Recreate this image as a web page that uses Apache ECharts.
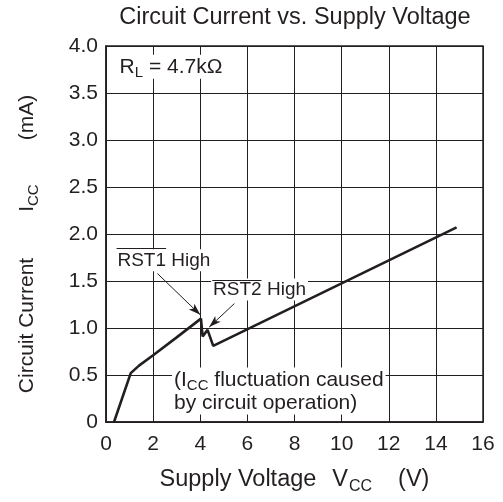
<!DOCTYPE html>
<html>
<head>
<meta charset="utf-8">
<script src="https://cdn.jsdelivr.net/npm/echarts@6/dist/echarts.min.js"></script>
<style>
  html, body { margin: 0; padding: 0; background: #fff; }
  #chart { width: 503px; height: 502px; }
</style>
</head>
<body>
<div id="chart"></div>
<script>
// curve (V, mA)
var voltage = [0.34, 1.05, 1.4, 2.0, 3.0, 4.03, 4.1, 4.31, 4.55, 14.88];
var current = [0, 0.52, 0.6, 0.71, 0.9, 1.1, 0.91, 0.98, 0.81, 2.07];

var xTickLabels = ['0', '2', '4', '6', '8', '10', '12', '14', '16'];
var yTickLabels = ['0', '0.5', '1.0', '1.5', '2.0', '2.5', '3.0', '3.5', '4.0'];

// arrows: [from, to]
var arrows = [
  [[2.18, 1.58], [4.0, 1.14]],
  [[5.45, 1.26], [4.38, 1.01]]
];
// overlines above RST1 / RST2
var overlines = [
  [[0.45, 1.85], [2.55, 1.85]],
  [[4.51, 1.51], [6.6, 1.51]]
];
// text notes, anchored at left-middle
var notes = [
  { coord: [0.47, 3.78], text: '{n|R}{s|L}{n| = 4.7kΩ}' },
  { coord: [0.38, 1.72], text: '{m|RST1 High}' },
  { coord: [4.44, 1.41], text: '{m|RST2 High}' },
  { coord: [2.78, 0.33], text: '{n|(I}{s|CC}{n| fluctuation caused}\n{n|by circuit operation)}' }
];

var ink = '#231f20';
var fam = '"Liberation Sans", Arial, Helvetica, sans-serif';
var rich = {
  n: { fontSize: 21, fontFamily: fam, color: ink, lineHeight: 23, verticalAlign: 'middle' },
  m: { fontSize: 19, fontFamily: fam, color: ink, lineHeight: 21, verticalAlign: 'middle' },
  s: { fontSize: 15, fontFamily: fam, color: ink, lineHeight: 16, padding: [12, 0, 0, 0], verticalAlign: 'middle' },
  ga: { fontSize: 21, fontFamily: fam, width: 46 },
  gb: { fontSize: 21, fontFamily: fam, width: 44 },
  e: { fontSize: 21, fontFamily: fam, width: 20 }
};
var xRich = {
  n: { fontSize: 23.5, fontFamily: fam, color: ink, lineHeight: 25, verticalAlign: 'middle' },
  s: { fontSize: 16, fontFamily: fam, color: ink, lineHeight: 17, padding: [15, 0, 0, 1], verticalAlign: 'middle' },
  g1: { fontSize: 23.5, fontFamily: fam, width: 16 },
  g2: { fontSize: 23.5, fontFamily: fam, width: 26 }
};

var chart = echarts.init(document.getElementById('chart'));

chart.setOption({
  animation: false,
  backgroundColor: '#fff',
  title: {
    text: 'Circuit Current vs. Supply Voltage',
    left: 295,
    top: 6,
    textAlign: 'center',
    padding: 0,
    textStyle: { fontSize: 23.5, fontWeight: 'normal', fontFamily: fam, color: ink }
  },
  grid: {
    left: 106, top: 46, width: 377, height: 376,
    containLabel: false,
    outerBoundsMode: 'none',
    show: true,
    borderColor: ink,
    borderWidth: 1.5,
    backgroundColor: 'transparent'
  },
  xAxis: {
    type: 'value',
    min: 0, max: 16, interval: 2,
    name: '{n|Supply Voltage}{g1| }{n|V}{s|CC}{g2| }{n|(V)}',
    nameLocation: 'middle',
    nameGap: 45,
    nameTextStyle: { rich: xRich },
    axisLine: { show: true, lineStyle: { color: ink, width: 1.5 } },
    axisTick: { show: false },
    axisLabel: {
      margin: 12, fontSize: 21, fontFamily: fam, color: ink,
      formatter: function (v) { return xTickLabels[Math.round(v / 2)]; }
    },
    splitLine: { show: true, lineStyle: { color: ink, width: 1 } }
  },
  yAxis: {
    type: 'value',
    min: 0, max: 4, interval: 0.5,
    name: '{n|Circuit Current}{ga| }{n|I}{s|CC}{gb| }{n|(mA)}{e| }',
    nameLocation: 'middle',
    nameGap: 67,
    nameRotate: 90,
    nameTextStyle: { rich: rich },
    axisLine: { show: true, lineStyle: { color: ink, width: 1.5 } },
    axisTick: { show: false },
    axisLabel: {
      margin: 8, fontSize: 21, fontFamily: fam, color: ink,
      formatter: function (v) { return yTickLabels[Math.round(v * 2)]; }
    },
    splitLine: { show: true, lineStyle: { color: ink, width: 1 } }
  },
  series: [
    {
      name: 'Icc',
      type: 'line',
      data: voltage.map(function (v, i) { return [v, current[i]]; }),
      showSymbol: false,
      lineStyle: { color: ink, width: 2.6 },
      z: 3,
      markPoint: {
        z: 2,
        symbol: 'circle',
        symbolSize: 1,
        itemStyle: { color: 'rgba(0,0,0,0)' },
        label: {
          show: true,
          position: 'right',
          distance: 0,
          backgroundColor: '#fff',
          padding: [1, 2, 0, 2],
          rich: rich
        },
        data: notes.map(function (d) {
          return { coord: d.coord, value: 0, label: { formatter: d.text } };
        })
      }
    },
    {
      name: 'marks',
      type: 'line',
      data: [],
      z: 6,
      markLine: {
        silent: true,
        z: 20,
        symbol: ['none', 'none'],
        label: { show: false },
        lineStyle: { color: ink, width: 1, type: 'solid' },
        data: arrows.map(function (a) {
          return [
            { coord: a[0], symbol: 'none' },
            { coord: a[1], symbol: 'arrow', symbolSize: [6, 12] }
          ];
        }).concat(overlines.map(function (o) {
          return [{ coord: o[0] }, { coord: o[1] }];
        }))
      }
    }
  ]
});
</script>
</body>
</html>
